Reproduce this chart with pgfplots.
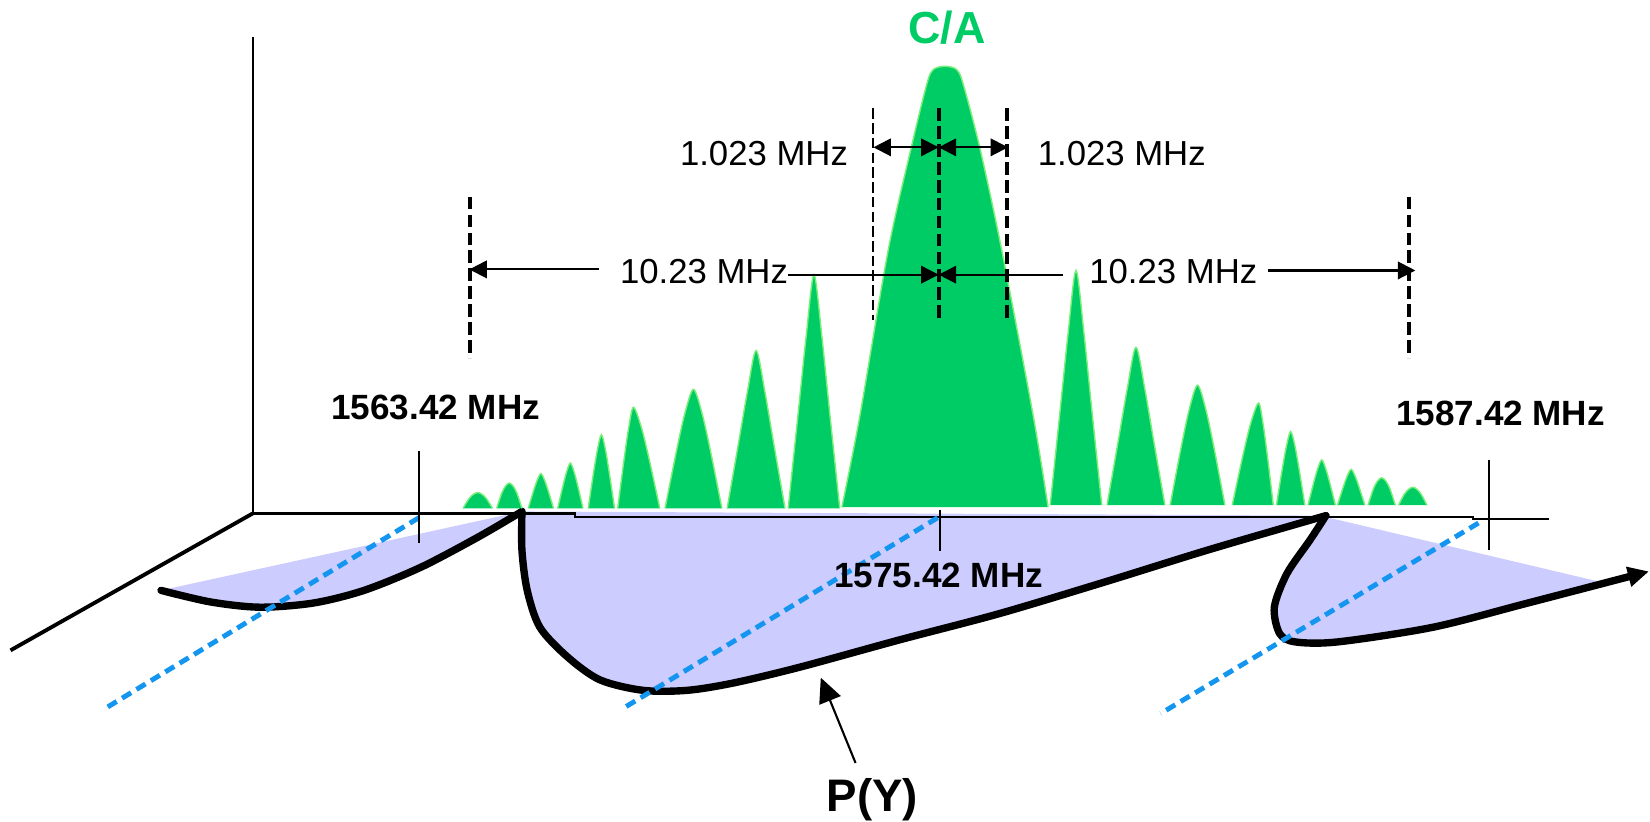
\documentclass[border=0pt]{standalone}
\usepackage{fontspec}
\setmainfont{Liberation Sans}
\usepackage{pgfplots}
\pgfplotsset{compat=1.18}
\usetikzlibrary{arrows.meta}
\definecolor{cagreen}{RGB}{0,204,102}
\definecolor{caedge}{RGB}{120,240,120}
\definecolor{lav}{RGB}{204,204,255}
\definecolor{dblue}{RGB}{20,150,240}
\pgfplotsset{
  lobe/.style={fill=cagreen, draw=caedge, line width=0.4pt, smooth},
  pycurve/.style={black, line width=2.1pt, smooth, line join=round, line cap=round},
  bluedash/.style={dblue, line width=1.4pt, dash pattern=on 3pt off 1.8pt},
  thickdash/.style={black, line width=1.2pt, dash pattern=on 3.6pt off 1.5pt},
  thindash/.style={black, line width=0.6pt, dash pattern=on 3pt off 1.2pt},
  thin/.style={black, line width=0.6pt},
  dimarrow/.style={black, line width=0.6pt},
}
\tikzset{
  lab/.style={font=\fontsize{9.9}{12}\selectfont, inner sep=0pt, anchor=base},
  blab/.style={font=\fontsize{10}{12}\selectfont\bfseries, inner sep=0pt, anchor=base},
}
\begin{document}
\begin{tikzpicture}
\begin{axis}[width=470.4pt, height=234.3pt, scale only axis,
  xmin=0, xmax=1568, ymin=0, ymax=781, y dir=reverse,
  axis lines=none, clip=false]

% ---- P(Y) lavender areas ----
\addplot[fill=lav, draw=none, smooth] coordinates {(153,561) (200,572) (247,577) (298,573) (346,561) (400,539) (455,510) (496,486)};
\addplot[fill=lav, draw=none, smooth] coordinates {(496,486) (496,523) (501,561) (513,596) (539,624) (570,646) (611,656) (653,656) (697,649) (760,634) (855,608) (950,583) (1050,553) (1150,522) (1260,490)};
\addplot[fill=lav, draw=none, smooth] coordinates {(1263,492) (1245,513) (1223,545) (1211,577) (1216,602) (1231,610) (1271,610) (1362,596) (1452,573) (1521,553)};

% ---- 3D frame ----
\addplot[thin] coordinates {(240,35) (240,488)};
\addplot[black, line width=1.1pt] coordinates {(240,488) (10,618)};
\addplot[thin] coordinates {(240,488) (546,488) (546,491) (1400,491) (1400,493) (1472,493)};

% ---- P(Y) curve ----
\addplot[pycurve] coordinates {(153,561) (200,572) (247,577) (298,573) (346,561) (400,539) (455,510) (496,486)};
\addplot[pycurve] coordinates {(496,486) (496,523) (501,561) (513,596) (539,624) (570,646) (611,656) (653,656) (697,649) (760,634) (855,608) (950,583) (1050,553) (1150,522) (1260,490)};
\addplot[pycurve, -{Triangle[length=6pt,width=5.5pt]}] coordinates {(1260,490) (1245,513) (1223,545) (1211,577) (1216,602) (1231,610) (1271,610) (1362,596) (1452,573) (1567,543)};

% ---- blue depth lines ----
\addplot[bluedash] coordinates {(398,492) (102,672)};
\addplot[bluedash] coordinates {(891,492) (594,672)};
\addplot[bluedash] coordinates {(1405,497) (1103,678)};

% ---- C/A lobes ----
\addplot[lobe] coordinates {(440,483) (445.6,474) (449.8,469.8) (454,468) (458.2,469.8) (462.4,474) (468,483)};
\addplot[lobe] coordinates {(472,483) (476.8,468.6) (480.4,461.9) (484,459) (487.6,461.9) (491.2,468.6) (496,483)};
\addplot[lobe] coordinates {(502,483) (506.8,467.2) (510.4,456.6) (514,450) (517.6,456.6) (521.2,467.2) (526,483)};
\addplot[lobe] coordinates {(530,483) (534.8,462.4) (538.4,448.6) (542,440) (545.6,448.6) (549.2,462.4) (554,483)};
\addplot[lobe] coordinates {(559,483) (564,449.4) (567.8,427) (571.5,413) (575.3,427) (579,449.4) (584,483)};
\addplot[lobe] coordinates {(587,483) (593,436.9) (597.5,406.2) (602,387) (609.5,406.2) (617,436.9) (627,483)};
\addplot[lobe] coordinates {(632,483) (642.8,428.8) (650.9,392.6) (659,370) (667.1,392.6) (675.2,428.8) (686,483)};
\addplot[lobe] coordinates {(691,483) (702,420) (710.3,372) (718.5,333) (726.8,372) (735,420) (746,483)};
\addplot[lobe] coordinates {(749,483) (758.8,389.8) (766.2,318.7) (773.5,261) (780.9,318.7) (788.2,389.8) (798,483)};
\addplot[lobe] coordinates {(800,482) (817,396) (844,238) (866,140) (881,79) (887,66) (898,63) (909,66) (915,79) (931,140) (952,238) (982,396) (996,482)};
\addplot[lobe] coordinates {(998,480) (1007.8,386.3) (1015.2,315) (1022.5,257) (1029.9,315) (1037.2,386.3) (1047,480)};
\addplot[lobe] coordinates {(1052,480) (1063,417) (1071.3,369) (1079.5,330) (1087.8,369) (1096,417) (1107,480)};
\addplot[lobe] coordinates {(1112,480) (1122.4,425.3) (1130.2,388.8) (1138,366) (1145.8,388.8) (1153.6,425.3) (1164,480)};
\addplot[lobe] coordinates {(1171,480) (1181,433.4) (1188.5,402.4) (1196,383) (1200.2,402.4) (1204.4,433.4) (1210,480)};
\addplot[lobe] coordinates {(1213,480) (1218.4,446.4) (1222.5,424) (1226.5,410) (1230.6,424) (1234.6,446.4) (1240,480)};
\addplot[lobe] coordinates {(1243,480) (1248.2,459.4) (1252.1,445.6) (1256,437) (1259.9,445.6) (1263.8,459.4) (1269,480)};
\addplot[lobe] coordinates {(1271,480) (1276.2,463.7) (1280.1,452.8) (1284,446) (1287.9,452.8) (1291.8,463.7) (1297,480)};
\addplot[lobe] coordinates {(1300,480) (1305.2,464.4) (1309.1,457.1) (1313,454) (1316.9,457.1) (1320.8,464.4) (1326,480)};
\addplot[lobe] coordinates {(1329,480) (1334.4,469.8) (1338.5,465) (1342.5,463) (1346.6,465) (1350.6,469.8) (1356,480)};

% ---- dashed verticals ----
\addplot[thickdash] coordinates {(447,187) (447,340)};
\addplot[thickdash] coordinates {(1339,187) (1339,340)};
\addplot[thindash] coordinates {(830,103) (830,304)};
\addplot[thickdash] coordinates {(892,103) (892,304)};
\addplot[thickdash] coordinates {(957,103) (957,304)};

% ---- dimension arrows ----
\addplot[dimarrow, {Triangle[length=5pt,width=5pt]}-{Triangle[length=5pt,width=5pt]}] coordinates {(830,140) (892,140)};
\addplot[dimarrow, {Triangle[length=5pt,width=5pt]}-{Triangle[length=5pt,width=5pt]}] coordinates {(892,140) (958,140)};
\addplot[dimarrow, {Triangle[length=5pt,width=5pt]}-] coordinates {(446,256) (569,256)};
\addplot[dimarrow, -{Triangle[length=5pt,width=5pt]}] coordinates {(749,261) (892,261)};
\addplot[dimarrow, {Triangle[length=5pt,width=5pt]}-] coordinates {(892,261) (1010,261)};
\addplot[dimarrow, -{Triangle[length=5pt,width=5pt]}] coordinates {(1205,257) (1345,257)};

% ---- frequency ticks ----
\addplot[thin] coordinates {(398,429) (398,516)};
\addplot[thin] coordinates {(893,485) (893,524)};
\addplot[thin] coordinates {(1415,437) (1415,523)};

% ---- P(Y) pointer ----
\addplot[black, line width=0.6pt, -{Triangle[length=7pt,width=6.5pt]}] coordinates {(813,725) (780,644)};

% ---- texts ----
\node[font=\fontsize{12.8}{14}\selectfont\bfseries, text=cagreen, inner sep=0pt, anchor=base] at (axis cs:900,41) {C/A};
\node[lab] at (axis cs:726,157) {1.023 MHz};
\node[lab] at (axis cs:1066,157) {1.023 MHz};
\node[lab] at (axis cs:669,269) {10.23 MHz};
\node[lab] at (axis cs:1115,269) {10.23 MHz};
\node[blab] at (axis cs:414,399) {1563.42 MHz};
\node[blab] at (axis cs:892,558) {1575.42 MHz};
\node[blab] at (axis cs:1426,404) {1587.42 MHz};
\node[font=\fontsize{13}{15}\selectfont\bfseries, inner sep=0pt, anchor=base] at (axis cs:829,771.5) {P(Y)};
\end{axis}
\pgfresetboundingbox
\path (current axis.south west) rectangle (current axis.north east);
\end{tikzpicture}
\end{document}
